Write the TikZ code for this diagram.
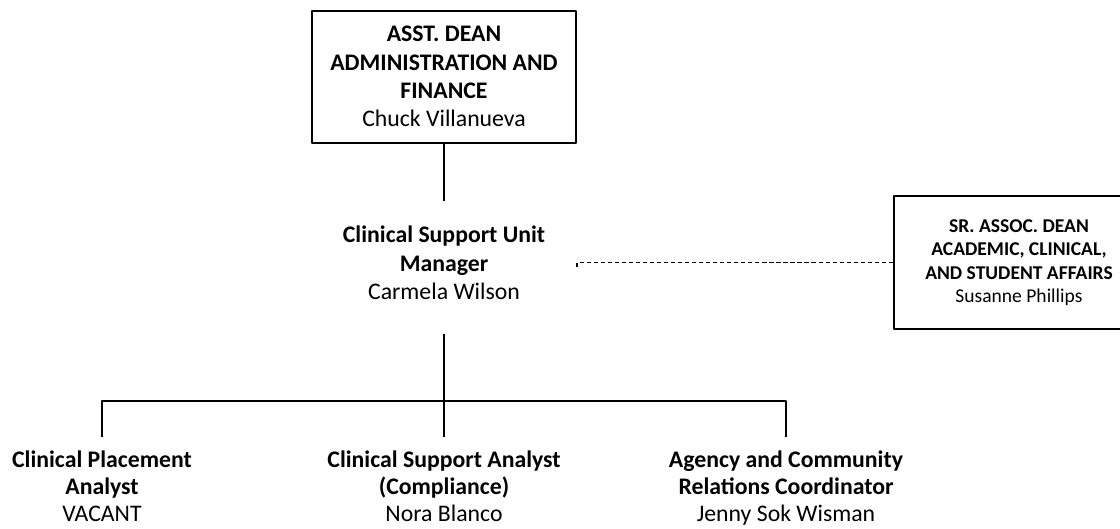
\documentclass[tikz,border=0pt]{standalone}
\usepackage{fontspec}
\setmainfont{Carlito}
\usepackage{tikz}

\begin{document}
\begin{tikzpicture}[line join=round,
    org_line/.style={line width=1.4pt},
    big_text/.style={align=center, font=\fontsize{16.9pt}{20.2pt}\selectfont},
    low_text/.style={align=center, font=\fontsize{16.9pt}{19.2pt}\selectfont, minimum height=2.55cm, text depth=0.3em, inner sep=0},
    small_text/.style={align=center, font=\fontsize{13.9pt}{16.7pt}\selectfont}]

\useasboundingbox (0,0) rectangle (28,13.225);

\node (asst_dean) at (11.1, 11.31) [draw, org_line, big_text, minimum width=6.61cm, minimum height=3.3cm, inner sep=0] {\textbf{ASST. DEAN}\\\textbf{ADMINISTRATION AND}\\\textbf{FINANCE}\\Chuck Villanueva};

\node (csu_mgr) at (11.1, 6.65) [big_text, minimum height=3.1cm, inner sep=0] {\textbf{Clinical Support Unit}\\\textbf{Manager}\\Carmela Wilson};

\node (sr_dean) at (25.475, 6.6625) [draw, org_line, small_text, minimum width=6.25cm, minimum height=3.325cm, inner sep=0] {\textbf{SR. ASSOC. DEAN}\\\textbf{ACADEMIC, CLINICAL,}\\\textbf{AND STUDENT AFFAIRS}\\Susanne Phillips};

\node (placement) at (2.55, 1.025) [low_text] {\textbf{Clinical Placement}\\\textbf{Analyst}\\VACANT};
\node (analyst) at (11.1, 1.025) [low_text] {\textbf{Clinical Support Analyst}\\\textbf{(Compliance)}\\Nora Blanco};
\node (agency) at (19.65, 1.025) [low_text] {\textbf{Agency and Community}\\\textbf{Relations Coordinator}\\Jenny Sok Wisman};

\draw[org_line] (asst_dean.south) -- (csu_mgr.north);
\draw[org_line, shorten <=0.225cm] (csu_mgr.south) -- (analyst.north);
\draw[org_line] (placement.north) -- ++(0,0.9) -| (agency.north);

% dotted link to the sr. assoc. dean
\coordinate (dash_end) at (14.425, 6.525);
\draw[line width=1.1pt, dash pattern=on 3pt off 2pt] (sr_dean.west) -| (dash_end);

\end{tikzpicture}
\end{document}
